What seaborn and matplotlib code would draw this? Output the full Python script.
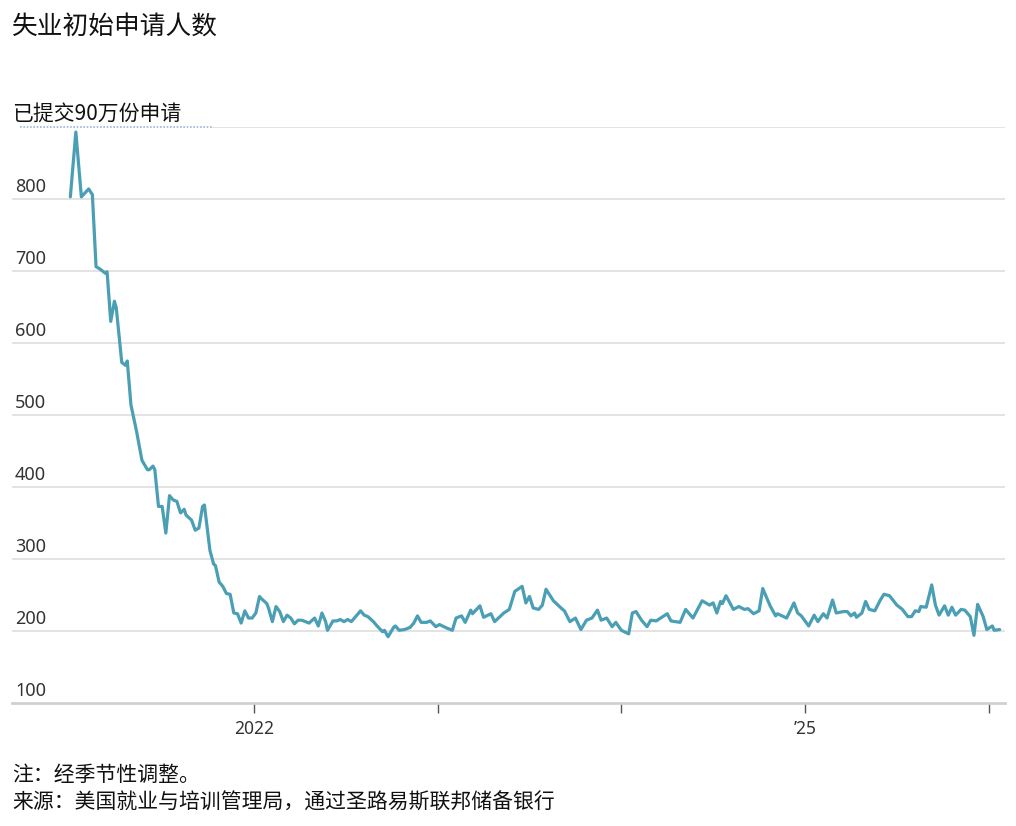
import numpy as np
import pandas as pd
import matplotlib
matplotlib.use('Agg')
import matplotlib.pyplot as plt
import matplotlib.transforms as mtransforms
import seaborn as sns

# weekly initial claims (thousands), time as fractional year
years = [
    2021.00, 2021.03, 2021.06, 2021.10, 2021.12, 2021.14, 2021.16, 2021.19, 2021.20, 2021.22,
    2021.24, 2021.25, 2021.28, 2021.30, 2021.31, 2021.33, 2021.36, 2021.39, 2021.42, 2021.43,
    2021.45, 2021.46, 2021.48, 2021.50, 2021.52, 2021.54, 2021.56, 2021.58, 2021.60, 2021.62,
    2021.63, 2021.66, 2021.68, 2021.70, 2021.72, 2021.73, 2021.76, 2021.78, 2021.79, 2021.81,
    2021.83, 2021.85, 2021.87, 2021.89, 2021.91, 2021.93, 2021.95, 2021.97, 2021.99, 2022.01,
    2022.03, 2022.04, 2022.07, 2022.08, 2022.10, 2022.12, 2022.14, 2022.16, 2022.18, 2022.20,
    2022.22, 2022.24, 2022.26, 2022.28, 2022.30, 2022.33, 2022.35, 2022.37, 2022.39, 2022.40,
    2022.43, 2022.45, 2022.47, 2022.49, 2022.51, 2022.53, 2022.55, 2022.58, 2022.60, 2022.62,
    2022.65, 2022.67, 2022.70, 2022.71, 2022.73, 2022.76, 2022.77, 2022.79, 2022.82, 2022.85,
    2022.87, 2022.89, 2022.91, 2022.94, 2022.96, 2022.99, 2023.01, 2023.05, 2023.08, 2023.10,
    2023.13, 2023.15, 2023.18, 2023.19, 2023.23, 2023.25, 2023.29, 2023.31, 2023.36, 2023.39,
    2023.42, 2023.46, 2023.48, 2023.50, 2023.52, 2023.55, 2023.57, 2023.59, 2023.63, 2023.68,
    2023.69, 2023.72, 2023.75, 2023.78, 2023.81, 2023.84, 2023.87, 2023.89, 2023.92, 2023.95,
    2023.97, 2024.00, 2024.04, 2024.06, 2024.08, 2024.11, 2024.14, 2024.16, 2024.19, 2024.25,
    2024.27, 2024.32, 2024.35, 2024.39, 2024.44, 2024.48, 2024.50, 2024.52, 2024.54, 2024.55,
    2024.57, 2024.61, 2024.64, 2024.67, 2024.69, 2024.72, 2024.75, 2024.77, 2024.81, 2024.84,
    2024.85, 2024.90, 2024.94, 2024.96, 2024.98, 2025.02, 2025.05, 2025.07, 2025.10, 2025.12,
    2025.15, 2025.17, 2025.21, 2025.23, 2025.25, 2025.27, 2025.28, 2025.31, 2025.33, 2025.35,
    2025.38, 2025.41, 2025.43, 2025.46, 2025.50, 2025.53, 2025.56, 2025.58, 2025.60, 2025.62,
    2025.63, 2025.66, 2025.69, 2025.71, 2025.73, 2025.76, 2025.78, 2025.80, 2025.82, 2025.85,
    2025.87, 2025.90, 2025.92, 2025.94, 2025.97, 2025.99, 2026.02, 2026.03, 2026.06,
]
claims = [
    803, 893, 803, 814, 806, 706, 703, 697, 699, 630,
    658, 649, 573, 569, 575, 514, 478, 437, 424, 424,
    429, 424, 373, 373, 336, 388, 382, 380, 364, 369,
    361, 354, 340, 343, 373, 375, 312, 293, 291, 268,
    262, 252, 251, 225, 224, 211, 228, 218, 218, 225,
    248, 245, 238, 231, 213, 234, 227, 213, 222, 218,
    210, 215, 215, 213, 211, 218, 207, 225, 213, 201,
    214, 214, 216, 213, 216, 213, 219, 228, 222, 220,
    213, 207, 199, 201, 192, 205, 207, 201, 202, 205,
    211, 221, 212, 212, 214, 206, 209, 204, 201, 218,
    221, 212, 229, 224, 235, 219, 224, 213, 225, 230,
    255, 262, 239, 248, 232, 230, 236, 258, 242, 230,
    228, 213, 218, 202, 215, 218, 229, 215, 218, 206,
    212, 201, 196, 225, 227, 215, 206, 215, 214, 224,
    214, 212, 230, 218, 242, 236, 239, 225, 241, 238,
    249, 230, 234, 230, 231, 224, 228, 259, 235, 221,
    224, 218, 239, 225, 221, 207, 222, 213, 224, 218,
    243, 225, 227, 227, 221, 225, 219, 225, 241, 230,
    228, 243, 251, 249, 236, 230, 220, 220, 228, 227,
    234, 233, 264, 236, 222, 235, 222, 233, 222, 230,
    229, 220, 194, 237, 220, 202, 207, 201, 202,
]
y_ticks = [100, 200, 300, 400, 500, 600, 700, 800]
x_ticks = [2022, 2023, 2024, 2025, 2026]
x_labels = ['2022', '', '', '\u201925', '']

title = '失业初始申请人数'
top_label = '已提交90万份申请'
note = '注：经季节性调整。'
source = '来源：美国就业与培训管理局，通过圣路易斯联邦储备银行'

df = pd.DataFrame({'year': years, 'claims': claims})

sns.set_style('white')
plt.rcParams['font.family'] = ['Noto Sans CJK SC', 'DejaVu Sans']
num_font = ['Noto Sans', 'DejaVu Sans']

W, H = 1016, 826
fig = plt.figure(figsize=(W / 100, H / 100), dpi=100)
left, right, top, bottom = 12, 1005, 127, 703
ax = fig.add_axes([left / W, 1 - bottom / H, (right - left) / W, (bottom - top) / H])

px_per_year = (805 - 254) / 3
ax.set_xlim(2022 - (254 - left) / px_per_year, 2022 + (right - 254) / px_per_year)
ax.set_ylim(100, 900)

# gridlines
for v in y_ticks[1:]:
    ax.axhline(v, color='#e3e3e3', lw=1.4, zorder=0)
ax.axhline(900, xmin=(212 - left) / (right - left), xmax=1, color='#e3e3e3', lw=1.4, zorder=0)
trans = mtransforms.blended_transform_factory(ax.transAxes, ax.transData)
ax.plot([0.008, 0.201], [900, 900], transform=trans,
        color='#9fb4d8', lw=1.2, ls=(0, (1, 1)), zorder=0, clip_on=False)

sns.lineplot(data=df, x='year', y='claims', ax=ax, color='#4a9fb5', lw=2.3, clip_on=False)

for s in ['top', 'right', 'left']:
    ax.spines[s].set_visible(False)
ax.spines['bottom'].set_color('#d0d0d0')
ax.spines['bottom'].set_linewidth(2)

ax.set_yticks([])
ax.set_xticks(x_ticks)
ax.set_xticklabels(x_labels, fontsize=12.5, color='#333333', family=num_font)
ax.tick_params(axis='x', bottom=True, length=7, width=1, color='#555555', pad=5, direction='out')
ax.set_xlabel('')
ax.set_ylabel('')

for v in y_ticks:
    ax.annotate(str(v), xy=(0.003, v), xycoords=trans, xytext=(0, 2.5), textcoords='offset points',
                ha='left', va='bottom', fontsize=13, color='#333333', family=num_font)
ax.annotate(top_label, xy=(0.0, 900), xycoords=trans, xytext=(0, 1.5), textcoords='offset points',
            ha='left', va='bottom', fontsize=15, color='#111111')

fig.text(12 / W, 1 - 28 / H, title, ha='left', va='center', fontsize=18.5, color='#111111')
fig.text(12 / W, 1 - 775 / H, note, ha='left', va='center', fontsize=15, color='#111111')
fig.text(12 / W, 1 - 803 / H, source, ha='left', va='center', fontsize=15, color='#111111')

fig.savefig('out.png', dpi=100)
